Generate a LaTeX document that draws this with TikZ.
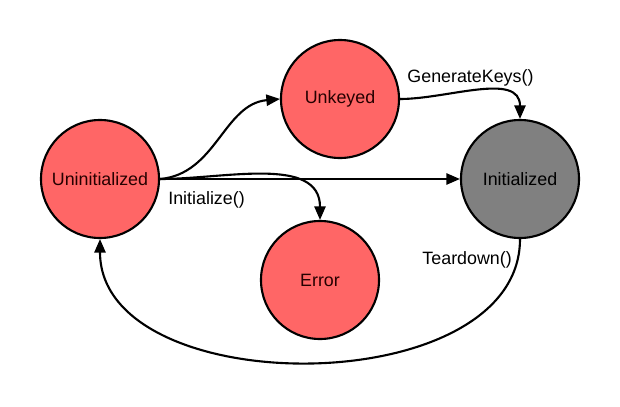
\documentclass[tikz,border=0pt]{standalone}
\usepackage{fontspec}
\setmainfont{Liberation Sans}
\usetikzlibrary{positioning,arrows.meta}

\definecolor{statered}{RGB}{255,102,102}
\definecolor{stategray}{RGB}{128,128,128}

\tikzstyle{arrow} = [line width=1.5pt,->,>={Triangle[length=0.34cm,width=0.28cm]}]
\tikzstyle{stateblock} = [
        circle,
        minimum size=2.95cm,
        inner sep=0pt,
        text centered,
        line width=1.5pt,
        draw=black,
        fill=statered,
        text=black!85!red
    ]

\begin{document}
\begin{tikzpicture}[node distance=6cm, on grid, font=\fontsize{12.7}{15}\selectfont]
        \useasboundingbox (-2.5,-5.675) rectangle (13,4.475);

        \node (uninitialized) [stateblock] at (0,0) {Uninitialized};

        \node (unkeyed) [%
            stateblock,%
            above right=2cm and 6cm of uninitialized
            ] {Unkeyed};

        \node (initialized) [%
            stateblock,%
            fill=stategray,%
            text=black,%
            right=10.5cm of uninitialized
            ] {Initialized};

        \node (error) [%
            stateblock,%
            below right=2.525cm and 5.5cm of uninitialized
            ] {Error};

        \draw [arrow] (uninitialized.east) to[out=5,in=185] (unkeyed.west);
        \draw [arrow] (uninitialized.east) -- node[pos=0.155, below, yshift=-5pt] {Initialize()} (initialized.west);
        \draw [arrow] (uninitialized.east) to[out=0,in=90] (error.north);
        \draw [arrow] (unkeyed.east) to[out=0,in=90] node[pos=0.45, above, yshift=-0.5pt] {GenerateKeys()} (initialized.north);
        \draw [arrow] (initialized.south) to[out=-90,in=-90] node[pos=0.045, left] {Teardown()} (uninitialized.south);

    \end{tikzpicture}
\end{document}
